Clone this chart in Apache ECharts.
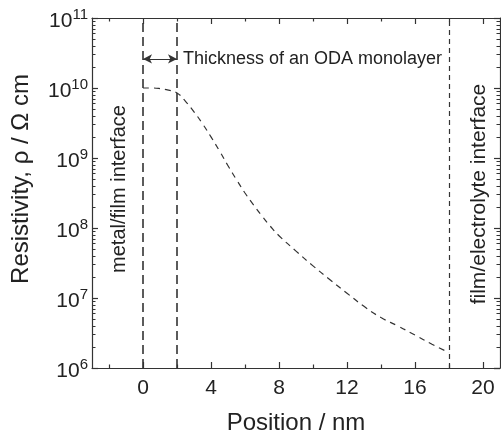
<!DOCTYPE html>
<html><head><meta charset="utf-8">
<script src="https://cdn.jsdelivr.net/npm/echarts@6/dist/echarts.min.js"></script>
<style>html,body{margin:0;padding:0;background:#fff}#c{width:501px;height:436px}</style>
</head><body><div id="c"></div>
<script>
// Data
const positions = [0, 0.5, 1, 1.5, 2, 2.5, 3, 3.5, 4, 4.5, 5, 5.5, 6, 6.5, 7, 7.5, 8, 9, 10, 11, 12, 13, 14, 15, 16, 17, 18];
const resistivity = [1.0e10, 1.0e10, 9.8e9, 9.3e9, 8.5e9, 6.45e9, 4.57e9, 3.09e9, 2.0e9, 1.26e9, 7.76e8, 4.9e8, 3.16e8,
  2.14e8, 1.48e8, 1.05e8, 7.76e7, 4.68e7, 2.88e7, 1.82e7, 1.17e7, 7.6e6, 5.25e6, 3.98e6, 2.95e6, 2.19e6, 1.66e6];
const boundaries = [0, 2, 18];
const monolayer = [0, 2];
const arrowLevel = 2.6e10;
const xMajorTicks = [0, 4, 8, 12, 16, 20];
const xMinorTicks = [-2, 2, 6, 10, 14, 18];
const yDecadeExp = [6, 7, 8, 9, 10, 11];
const yMinorMult = [2, 3, 4, 5, 6, 7, 8, 9];
const texts = {
  xTitle: 'Position / nm',
  yTitle: 'Resistivity, \u03c1 / \u03a9 cm',
  arrow: 'Thickness of an ODA monolayer',
  left: 'metal/film interface',
  right: 'film/electrolyte interface'
};

const FONT = "'Liberation Sans', Arial, sans-serif";
const LINE = '#333';
const TXT = '#222';

const yMinorLog = [];
yDecadeExp.slice(0, -1).forEach(e => yMinorMult.forEach(m => yMinorLog.push(e + Math.log10(m))));

const chart = echarts.init(document.getElementById('c'), null, {renderer: 'canvas'});

function xAx(pos, ticks, len, line, labels) {
  return {
    type: 'value', position: pos, min: -3, max: 21,
    axisLine: {show: line, onZero: false, lineStyle: {color: LINE, width: 1.2}},
    axisTick: {show: true, inside: true, length: len, customValues: ticks, lineStyle: {color: LINE, width: 1.2}},
    axisLabel: labels ? {show: true, customValues: ticks, fontSize: 21, color: TXT, fontFamily: FONT, margin: 10} : {show: false},
    splitLine: {show: false}
  };
}

const option = {
  animation: false,
  backgroundColor: '#fff',
  grid: {left: 92, top: 18, right: 1, bottom: 68, containLabel: false, outerBoundsMode: 'none'},
  xAxis: [
    Object.assign(xAx('bottom', xMajorTicks, 6, true, true), {
      name: texts.xTitle, nameLocation: 'middle', nameGap: 43,
      nameTextStyle: {fontSize: 24, color: TXT, fontFamily: FONT}
    }),
    xAx('bottom', xMinorTicks, 3.5, false, false),
    xAx('top', xMajorTicks, 6, true, false),
    xAx('top', xMinorTicks, 3.5, false, false)
  ],
  yAxis: [
    {
      type: 'log', logBase: 10, min: 1e6, max: 1e11, position: 'left',
      axisLine: {show: true, onZero: false, lineStyle: {color: LINE, width: 1.2}},
      axisTick: {show: true, inside: true, length: 6, lineStyle: {color: LINE, width: 1.2}},
      axisLabel: {
        show: true, margin: 4, fontFamily: FONT, color: TXT,
        formatter: v => '{b|10}{s|' + Math.round(Math.log10(v)) + '}',
        rich: {
          b: {fontSize: 21, lineHeight: 21, padding: [6, 0, 0, 0], color: TXT, fontFamily: FONT},
          s: {fontSize: 15, lineHeight: 15, verticalAlign: 'top', color: TXT, fontFamily: FONT}
        }
      },
      splitLine: {show: false}
    },
    {
      type: 'log', logBase: 10, min: 1e6, max: 1e11, position: 'right',
      axisLine: {show: true, onZero: false, lineStyle: {color: LINE, width: 1.2}},
      axisTick: {show: true, inside: true, length: 6, lineStyle: {color: LINE, width: 1.2}},
      axisLabel: {show: false}, splitLine: {show: false}
    },
    {
      type: 'value', min: 6, max: 11, position: 'left',
      axisLine: {show: false, onZero: false},
      axisTick: {show: true, inside: true, length: 3.5, customValues: yMinorLog, lineStyle: {color: LINE, width: 1}},
      axisLabel: {show: false}, splitLine: {show: false}
    },
    {
      type: 'value', min: 6, max: 11, position: 'right',
      axisLine: {show: false, onZero: false},
      axisTick: {show: true, inside: true, length: 3.5, customValues: yMinorLog, lineStyle: {color: LINE, width: 1}},
      axisLabel: {show: false}, splitLine: {show: false}
    }
  ],
  series: [{
    type: 'line',
    xAxisIndex: 0, yAxisIndex: 0,
    data: positions.map((p, i) => [p, resistivity[i]]),
    symbol: 'none', smooth: true,
    lineStyle: {color: LINE, width: 1.2, type: [6, 5]},
    markLine: {
      silent: true, symbol: 'none', animation: false,
      label: {show: false},
      data: boundaries.map((b, i) => ({
        xAxis: b,
        lineStyle: i < 2 ? {color: LINE, width: 1.6, type: [9, 5]} : {color: LINE, width: 1.2, type: [5, 4]}
      })).concat([[
        {coord: [monolayer[0], arrowLevel], symbol: 'arrow', symbolSize: [7, 9]},
        {coord: [monolayer[1], arrowLevel], symbol: 'arrow', symbolSize: [7, 9],
         lineStyle: {color: LINE, width: 1.2, type: 'solid'},
         label: {show: true, position: 'end', distance: 6, formatter: texts.arrow, fontSize: 18, color: TXT, fontFamily: FONT}}
      ]])
    }
  }],
  graphic: [
    {type: 'text', x: 21, y: 179, rotation: Math.PI / 2,
     style: {text: texts.yTitle, fontSize: 24, fontFamily: FONT, fill: TXT, align: 'center', verticalAlign: 'middle'}},
    {type: 'text', x: 119, y: 189, rotation: Math.PI / 2,
     style: {text: texts.left, fontSize: 20, fontFamily: FONT, fill: TXT, align: 'center', verticalAlign: 'middle'}},
    {type: 'text', x: 479, y: 194, rotation: Math.PI / 2,
     style: {text: texts.right, fontSize: 21, fontFamily: FONT, fill: TXT, align: 'center', verticalAlign: 'middle'}}
  ]
};
chart.setOption(option);
</script>
</body></html>
